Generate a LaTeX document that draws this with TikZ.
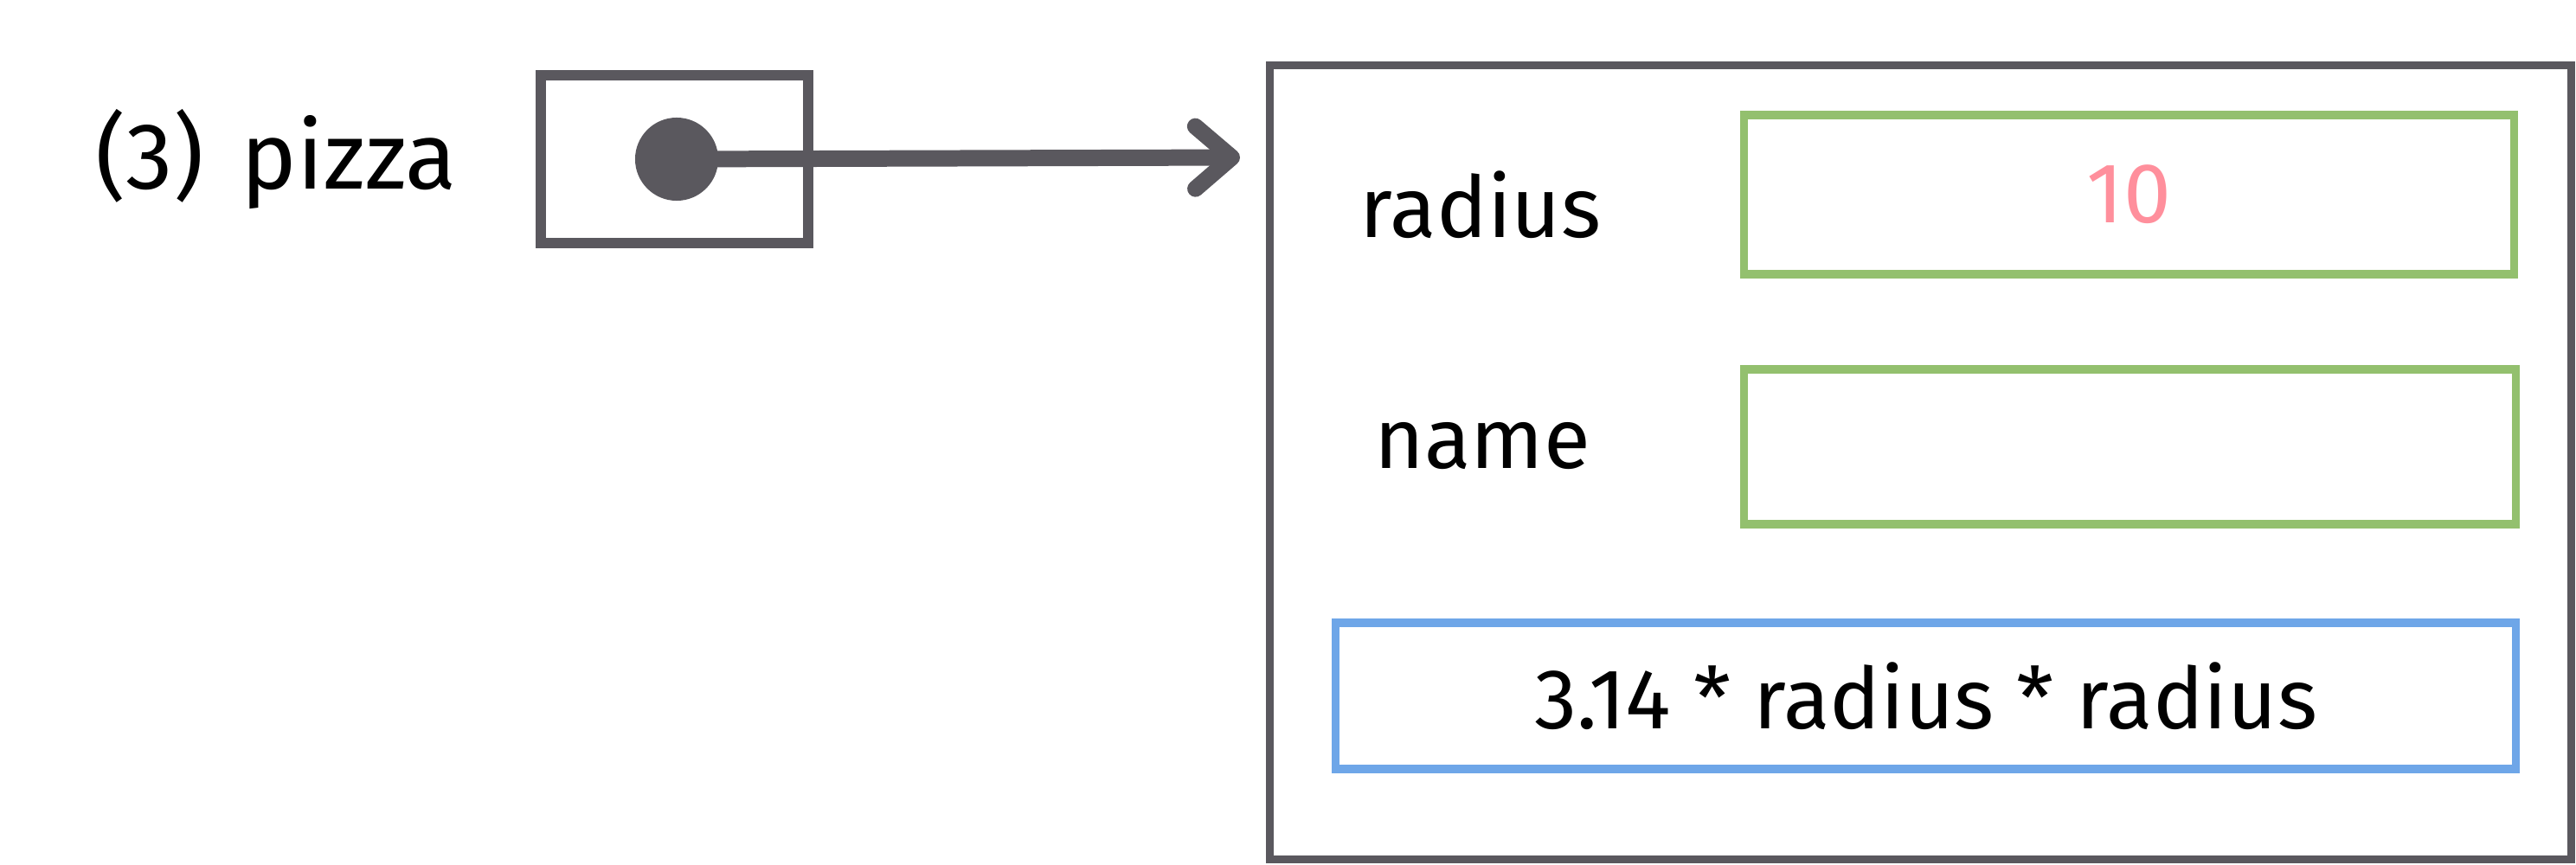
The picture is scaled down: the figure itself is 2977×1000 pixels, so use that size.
\documentclass[tikz,border=0pt]{standalone}
\usepackage{fontspec}
\setmainfont{Fira Sans}
\usetikzlibrary{arrows.meta}
\definecolor{ink}{HTML}{5A585E}
\definecolor{fgreen}{HTML}{93C06E}
\definecolor{fblue}{HTML}{6EA6E8}
\definecolor{fpink}{HTML}{FF8F9C}
\tikzset{
  box/.style={draw=#1, line width=2.6pt, rectangle, inner sep=0pt},
  lbl/.style={font=\fontsize{28}{32}\selectfont, text=black, inner sep=0pt},
}
\begin{document}
\begin{tikzpicture}[x=0.01cm, y=-0.01cm]
\useasboundingbox (0,0) rectangle (2977,1000);
% label
\node[lbl, font=\fontsize{31}{34}\selectfont] (lab) at (319,184) {(3)\hspace{0.4em}pizza};
% pointer box
\node[box=ink, line width=3.2pt, minimum width=3.09cm, minimum height=1.94cm] (ptr) at (779.5,184) {};
\node[circle, fill=ink, minimum size=0.96cm, inner sep=0pt] (dot) at (782,184) {};
\coordinate (tip) at (1433,182);
\draw[ink, line width=5.4pt, line cap=round, line join=round,
  -{Straight Barb[length=0.42cm, width=0.72cm, line width=5.4pt, round]}] (dot.center) -- (tip);
% object
\node[box=ink, minimum width=15.03cm, minimum height=9.17cm] (obj) at (2219.5,534.5) {};
\node[lbl] (radlab) at (1711,237) {radius};
\node[lbl] (namelab) at (1713,516) {name};
\node[box=fgreen, minimum width=8.89cm, minimum height=1.84cm] (radbox) at (2460.5,225) {};
\node[lbl, text=fpink] (radval) at (radbox.center) {10};
\node[box=fgreen, minimum width=8.91cm, minimum height=1.79cm] (namebox) at (2461.5,516.5) {};
\node[box=fblue, minimum width=13.63cm, minimum height=1.69cm] (area) at (2225.5,804.5) {};
\node[lbl] (areatxt) at (area.center) {3.14 * radius * radius};
\end{tikzpicture}
\end{document}
